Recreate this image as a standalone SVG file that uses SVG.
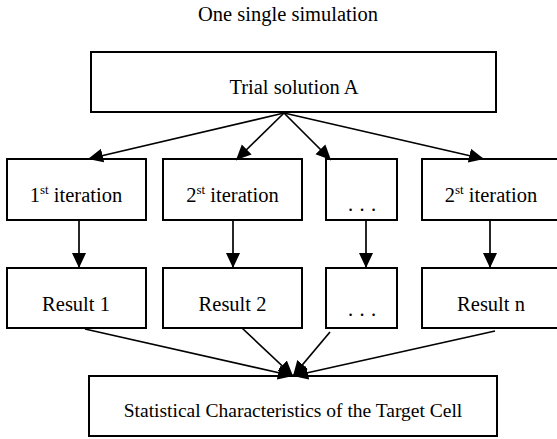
<svg xmlns="http://www.w3.org/2000/svg" width="557" height="439" viewBox="0 0 557 439">
<style>
.box{fill:#fff;stroke:#000;stroke-width:2}
.t{font-family:"Liberation Serif","Times New Roman",serif;font-size:20.5px;fill:#000;text-anchor:middle}
.c{stroke:#000;stroke-width:1.7;fill:none;marker-end:url(#ah)}
</style>
<defs>
<marker id="ah" markerUnits="userSpaceOnUse" markerWidth="16" markerHeight="16" refX="15" refY="7" orient="auto" viewBox="0 0 16 14">
<path d="M0,0 L15,7 L0,14 z" fill="#000"/>
</marker>
</defs>
<rect width="557" height="439" fill="#fff"/>
<text class="t" x="288" y="21">One single simulation</text>
<g id="trial"><rect class="box" x="91" y="52" width="405" height="60"/><text class="t" x="294" y="94">Trial solution A</text></g>
<g id="it1"><rect class="box" x="7" y="159" width="139" height="61"/><text class="t" x="76" y="202">1<tspan font-size="13" dy="-8">st</tspan><tspan dy="8"> iteration</tspan></text></g>
<g id="it2"><rect class="box" x="163" y="159" width="139" height="61"/><text class="t" x="232.5" y="202">2<tspan font-size="13" dy="-8">st</tspan><tspan dy="8"> iteration</tspan></text></g>
<g id="it3"><rect class="box" x="326" y="159" width="71" height="61"/><text class="t" style="text-anchor:start" x="348 359.5 371" y="211">...</text></g>
<g id="it4"><rect class="box" x="422" y="159" width="140" height="61"/><text class="t" x="491" y="202">2<tspan font-size="13" dy="-8">st</tspan><tspan dy="8"> iteration</tspan></text></g>
<g id="r1"><rect class="box" x="7" y="268" width="139" height="60"/><text class="t" x="76" y="311">Result 1</text></g>
<g id="r2"><rect class="box" x="163" y="268" width="139" height="60"/><text class="t" x="232.5" y="311">Result 2</text></g>
<g id="r3"><rect class="box" x="326" y="268" width="71" height="60"/><text class="t" style="text-anchor:start" x="348 359.5 371" y="316">...</text></g>
<g id="r4"><rect class="box" x="422" y="268" width="140" height="60"/><text class="t" x="491" y="311">Result n</text></g>
<g id="stats"><rect class="box" x="89" y="376" width="408" height="60"/><text class="t" style="font-size:19.5px" x="293" y="417">Statistical Characteristics of the Target Cell</text></g>
<g id="connectors">
<line class="c" x1="284" y1="113" x2="88" y2="159"/>
<line class="c" x1="284" y1="113" x2="236" y2="160"/>
<line class="c" x1="284" y1="113" x2="331" y2="160"/>
<line class="c" x1="284" y1="113" x2="484" y2="159"/>
<line class="c" x1="79" y1="220" x2="79" y2="268"/>
<line class="c" x1="233" y1="220" x2="233" y2="268"/>
<line class="c" x1="366" y1="220" x2="366" y2="268"/>
<line class="c" x1="490" y1="220" x2="490" y2="268"/>
<line class="c" x1="85" y1="329" x2="293" y2="376"/>
<line class="c" x1="242" y1="328" x2="293" y2="376"/>
<line class="c" x1="330" y1="332" x2="293" y2="376"/>
<line class="c" x1="495" y1="331" x2="293" y2="376"/>
</g>
</svg>
